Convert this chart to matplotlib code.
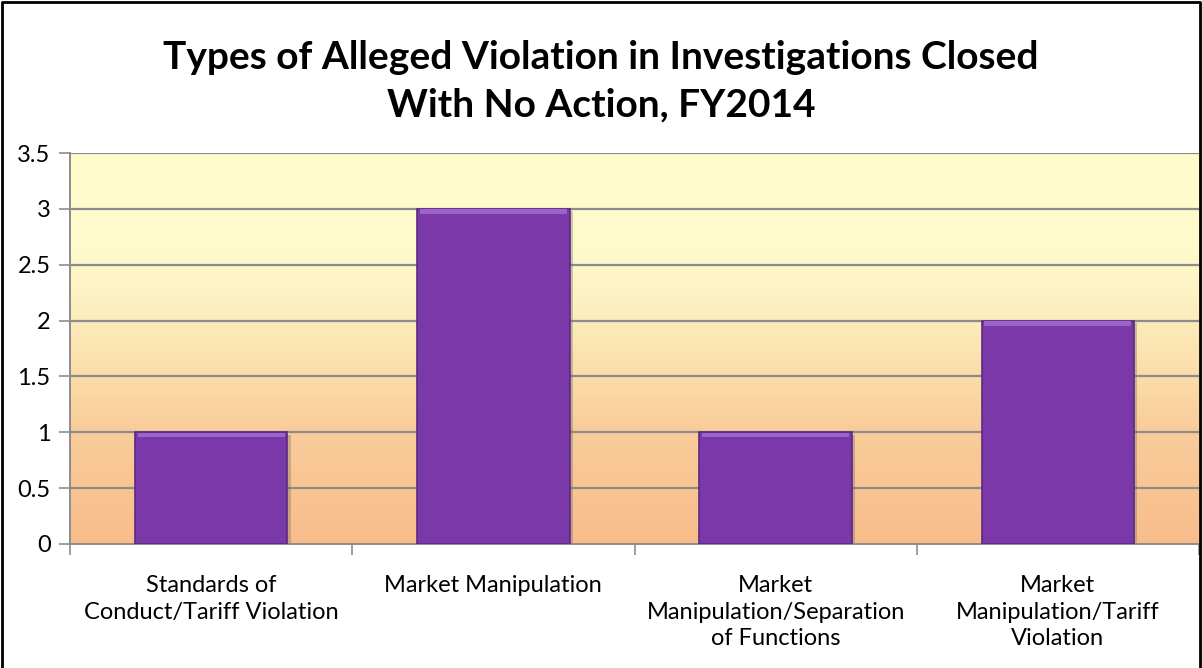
import numpy as np
import matplotlib
matplotlib.use("Agg")
import matplotlib.pyplot as plt
from matplotlib.colors import LinearSegmentedColormap
from matplotlib.lines import Line2D

# data
categories = ["Standards of\nConduct/Tariff Violation",
              "Market Manipulation",
              "Market\nManipulation/Separation\nof Functions",
              "Market\nManipulation/Tariff\nViolation"]
counts = [1, 3, 1, 2]
yticks = [0, 0.5, 1, 1.5, 2, 2.5, 3, 3.5]
ytick_labels = ["0", "0.5", "1", "1.5", "2", "2.5", "3", "3.5"]

plt.rcParams['font.family'] = ['Lato', 'DejaVu Sans']

fig = plt.figure(figsize=(12.02, 6.68), dpi=100)
ax = fig.add_axes([70 / 1202, 124 / 668, 1129 / 1202, 391 / 668])

# background gradient (bottom peach -> top pale yellow)
bg = LinearSegmentedColormap.from_list(
    "bg", [(0.0, "#f8bd8b"), (0.3, "#f9cd9b"), (0.45, "#fbdfaa"),
           (0.62, "#fdf0c2"), (0.75, "#fffacb"), (1.0, "#fffdcc")])
grad = np.linspace(0, 1, 256).reshape(-1, 1)
ax.imshow(grad, cmap=bg, aspect="auto", origin="lower",
          extent=[0, 1, 0, 1], transform=ax.transAxes, zorder=0)

x = np.arange(len(categories))
ax.set_xlim(-0.5, len(categories) - 0.5)
ax.set_ylim(0, 3.5)

for y in yticks[1:]:
    ax.axhline(y, color="#8c8c8c", lw=1.6, zorder=1)

# bars with a simple bevel look
ax.bar(x + 0.012, counts, width=0.54, bottom=-0.02, color="#6a6a6a",
       alpha=0.35, zorder=2)
ax.bar(x, counts, width=0.54, color="#7a38a8", edgecolor="#5b2a85",
       linewidth=1.2, zorder=3)
ax.bar(x, [0.04] * len(counts), width=0.52, bottom=np.array(counts) - 0.045,
       color="#9d62cc", linewidth=0, zorder=4)

ax.set_yticks(yticks)
ax.set_yticklabels(ytick_labels, fontsize=17)
ax.set_xticks(np.arange(len(categories) + 1) - 0.5, minor=True)
ax.set_xticks(x)
ax.set_xticklabels(categories, fontsize=17, linespacing=1.35, va="top")
ax.tick_params(axis="x", which="major", length=0, pad=22)
ax.tick_params(axis="x", which="minor", length=8, color="#8c8c8c", width=1.2)
ax.tick_params(axis="y", length=8, color="#8c8c8c", width=1.2, pad=6)

for side in ["top", "right"]:
    ax.spines[side].set_visible(False)
for side in ["left", "bottom"]:
    ax.spines[side].set_color("#8c8c8c")
    ax.spines[side].set_linewidth(1.4)

fig.text(0.5, 0.878, "Types of Alleged Violation in Investigations Closed\nWith No Action, FY2014",
         ha="center", va="center", fontsize=28, fontweight="bold", linespacing=1.42)

# outer chart border (left, top, right)
fig.add_artist(Line2D([0.002, 0.002, 0.998, 0.998], [0, 0.997, 0.997, 0],
                      transform=fig.transFigure, color="black", lw=2))

fig.savefig("out.png", dpi=100)
